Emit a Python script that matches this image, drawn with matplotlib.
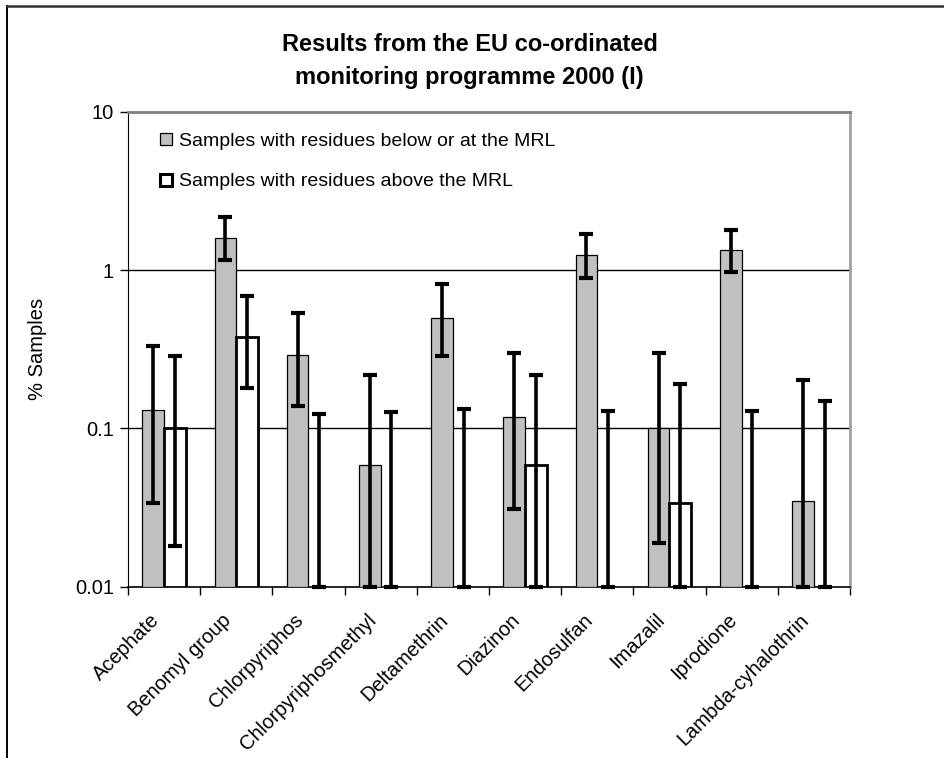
import numpy as np
import matplotlib
matplotlib.use("Agg")
import matplotlib.pyplot as plt
from matplotlib.patches import Patch
from matplotlib.lines import Line2D

plt.rcParams['font.family'] = ['Liberation Sans', 'DejaVu Sans']

pesticides = ["Acephate", "Benomyl group", "Chlorpyriphos", "Chlorpyriphosmethyl",
              "Deltamethrin", "Diazinon", "Endosulfan", "Imazalil", "Iprodione",
              "Lambda-cyhalothrin"]

# % samples with residues below or at the MRL, with lower / upper limits
below = [0.13, 1.6, 0.29, 0.059, 0.5, 0.118, 1.24, 0.1, 1.33, 0.035]
below_lo = [0.034, 1.16, 0.139, 0.01, 0.286, 0.031, 0.89, 0.019, 0.97, 0.01]
below_hi = [0.33, 2.16, 0.535, 0.216, 0.82, 0.30, 1.68, 0.30, 1.8, 0.202]

# % samples with residues above the MRL, with lower / upper limits
above = [0.1, 0.38, 0, 0, 0, 0.059, 0, 0.034, 0, 0]
above_lo = [0.018, 0.18, 0.01, 0.01, 0.01, 0.01, 0.01, 0.01, 0.01, 0.01]
above_hi = [0.286, 0.69, 0.124, 0.127, 0.133, 0.216, 0.129, 0.192, 0.129, 0.149]

ymin, ymax = 0.01, 10

fig = plt.figure(figsize=(9.45, 7.58), dpi=100)
ax = fig.add_axes([0.1354, 0.226, 0.764, 0.6266])
ax.set_yscale('log')

x = np.arange(len(pesticides))
w = 0.3

b = np.array(below, dtype=float)
a = np.array(above, dtype=float)
ok_b = b > 0
ok_a = a > 0
ax.bar(x[ok_b] - w / 2, b[ok_b] - ymin, bottom=ymin, width=w, color='#c0c0c0',
       edgecolor='black', linewidth=0.9, zorder=3)
ax.bar(x[ok_a] + w / 2, a[ok_a] - ymin, bottom=ymin, width=w, color='white',
       edgecolor='black', linewidth=2.0, zorder=3)

# error bars drawn from the limits around each value
for xs, vals, lo, hi in [(x - w / 2, below, below_lo, below_hi),
                         (x + w / 2, above, above_lo, above_hi)]:
    mid = np.array([v if v > 0 else l for v, l in zip(vals, lo)])
    err = np.vstack([mid - np.array(lo), np.array(hi) - mid])
    ax.errorbar(xs, mid, yerr=err, fmt='none', ecolor='black', elinewidth=2.6,
                capsize=4.8, capthick=3, zorder=4, clip_on=False)

ax.set_ylim(ymin, ymax)
ax.set_xlim(-0.5, len(pesticides) - 0.5)

for yv in [0.1, 1]:
    ax.axhline(yv, color='black', linewidth=1.0, zorder=1)

ax.set_yticks([0.01, 0.1, 1, 10])
ax.set_yticklabels(["0.01", "0.1", "1", "10"])
ax.yaxis.set_minor_locator(matplotlib.ticker.NullLocator())
ax.tick_params(axis='y', length=6, width=1, labelsize=14.5, pad=4)

# category names sit a little left of centre, the ticks mark the boundaries
ax.set_xticks(x - 0.2)
ax.set_xticklabels(pesticides, rotation=45, ha='right', rotation_mode='anchor',
                   fontsize=14.5)
ax.set_xticks(np.arange(len(pesticides) + 1) - 0.5, minor=True)
ax.tick_params(axis='x', which='major', length=0, pad=17)
ax.tick_params(axis='x', which='minor', length=6, width=1)

ax.spines['left'].set_color('black')
ax.spines['bottom'].set_color('black')
ax.spines['bottom'].set_linewidth(1.2)
ax.spines['top'].set_color('#808080')
ax.spines['top'].set_linewidth(2)
ax.spines['right'].set_color('#a0a0a0')
ax.spines['right'].set_linewidth(2)

ax.set_ylabel("% Samples", fontsize=14.5, labelpad=20)

handles = [Patch(facecolor='#c0c0c0', edgecolor='black', linewidth=0.9),
           Patch(facecolor='white', edgecolor='black', linewidth=2.2)]
ax.legend(handles, ["Samples with residues below or at the MRL",
                    "Samples with residues above the MRL"],
          loc='upper left', bbox_to_anchor=(0.045, 0.955), frameon=False,
          fontsize=14, handlelength=0.57, handleheight=0.57,
          handletextpad=0.36, labelspacing=1.2, borderpad=0, borderaxespad=0)

fig.text(0.497, 0.9195, "Results from the EU co-ordinated\nmonitoring programme 2000 (I)",
         ha='center', va='center', fontsize=17, fontweight='bold',
         linespacing=1.55)

# outer frame (left and top edges)
fig.add_artist(Line2D([7.5 / 945, 7.5 / 945], [0, 1 - 6 / 758], color='black',
                      linewidth=1.4, transform=fig.transFigure))
fig.add_artist(Line2D([7.5 / 945, 1], [1 - 6 / 758, 1 - 6 / 758], color='#333333',
                      linewidth=1.8, transform=fig.transFigure))

fig.savefig("out.png", dpi=100)
